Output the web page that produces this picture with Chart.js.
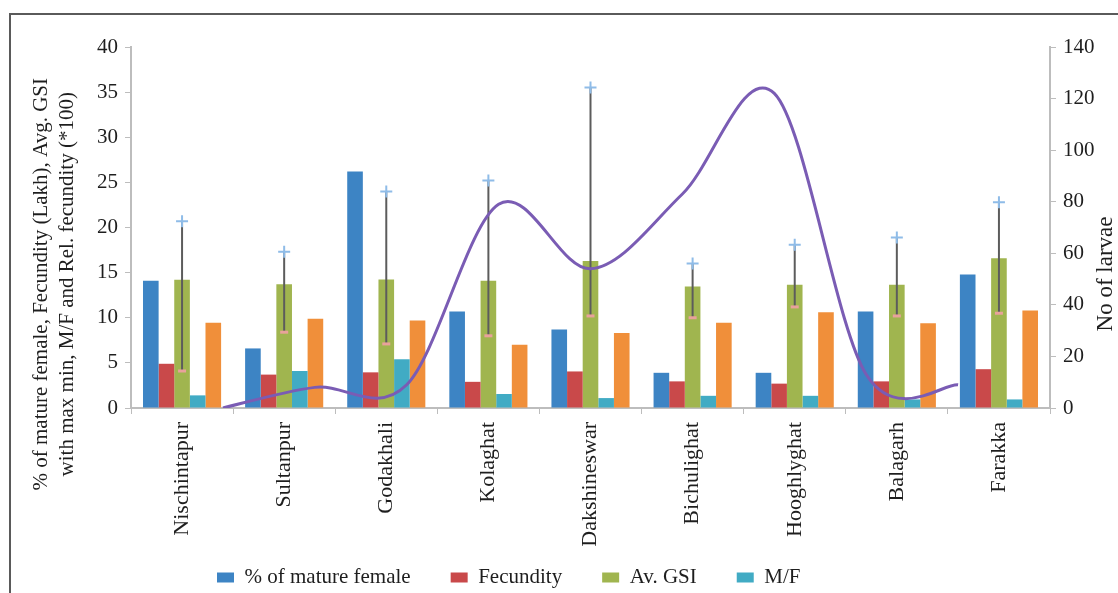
<!DOCTYPE html>
<html>
<head>
<meta charset="utf-8">
<script src="https://cdn.jsdelivr.net/npm/chart.js@4"></script>
<style>
  body { margin: 0; background: #fff; }
  #wrap { position: relative; width: 1118px; height: 593px; overflow: hidden; }
  #frame { position: absolute; left: 9px; top: 13px; right: -5px; bottom: -5px;
           border-top: 2px solid #5a5a5a; border-left: 2px solid #5a5a5a; pointer-events: none; }
</style>
</head>
<body>
<div id="wrap">
  <canvas id="riverChart" width="1118" height="593"></canvas>
  <div id="frame"></div>
</div>
<script>
// Sites along the river
const sites = ['Nischintapur', 'Sultanpur', 'Godakhali', 'Kolaghat', 'Dakshineswar',
               'Bichulighat', 'Hooghlyghat', 'Balagarh', 'Farakka'];

// Left axis series
const matureFemale = [14.1, 6.6, 26.2, 10.7, 8.7, 3.9, 3.9, 10.7, 14.8];
const fecundity = [4.9, 3.7, 3.95, 2.9, 4.05, 2.95, 2.7, 2.95, 4.3];
const avGSI = [14.2, 13.7, 14.25, 14.1, 16.3, 13.45, 13.65, 13.65, 16.6];
const gsiMax = [20.7, 17.3, 24.0, 25.2, 35.5, 16.0, 18.1, 18.9, 22.8];
const gsiMin = [4.1, 8.4, 7.1, 8.0, 10.2, 10.0, 11.2, 10.2, 10.5];
const mfRatio = [1.4, 4.1, 5.4, 1.55, 1.1, 1.35, 1.35, 0.95, 0.95];
const relFecundity = [9.45, 9.9, 9.7, 7.0, 8.3, 9.45, 10.6, 9.4, 10.8];

// Right axis series: scatter x = 1..9 on a secondary 0..10 axis in the original
const larvaePos = [1, 2, 3, 4, 5, 6, 7, 8, 9];
const larvae = [0, 8, 9, 79, 54, 83, 122, 13, 9];

const leftTicks = [0, 5, 10, 15, 20, 25, 30, 35, 40];
const rightTicks = [0, 20, 40, 60, 80, 100, 120, 140];

const serif = '"Liberation Serif", "Times New Roman", serif';
const textColor = '#1e1e1e';
const axisColor = '#bdbdbd';
const legendPad = 40;

// map the secondary 0..10 scale onto the site index axis (-0.5 .. 8.5)
const toSiteAxis = p => -0.5 + p * sites.length / 10;
const xy = arr => arr.map((v, i) => ({ x: i, y: v }));

// whisker lines between min and max GSI
const whiskers = {
    id: 'whiskers',
    beforeDatasetDraw(chart, args) {
        if (args.index !== 6) return;
        const ctx = chart.ctx, x = chart.scales.x, y = chart.scales.y;
        ctx.save();
        ctx.strokeStyle = '#5c5c5c';
        ctx.lineWidth = 2;
        for (let i = 0; i < sites.length; i++) {
            const px = x.getPixelForValue(i);
            ctx.beginPath();
            ctx.moveTo(px, y.getPixelForValue(gsiMax[i]));
            ctx.lineTo(px, y.getPixelForValue(gsiMin[i]));
            ctx.stroke();
        }
        ctx.restore();
    }
};

// Excel-style smoothing for the larvae curve (uniform catmull-rom, 1/6)
const excelSmooth = {
    id: 'excelSmooth',
    beforeDatasetDraw(chart, args) {
        if (args.index !== 7) return;
        const line = args.meta.dataset;
        line.updateControlPoints(chart.chartArea, 'x');
        const pts = args.meta.data;
        for (let i = 0; i < pts.length; i++) {
            const prev = pts[i - 1] || pts[i];
            const next = pts[i + 1] || pts[i];
            const dx = (next.x - prev.x) / 6, dy = (next.y - prev.y) / 6;
            pts[i].cp1x = pts[i].x - dx; pts[i].cp1y = pts[i].y - dy;
            pts[i].cp2x = pts[i].x + dx; pts[i].cp2y = pts[i].y + dy;
        }
        line._path = undefined;
    }
};

// axis titles, drawn reading bottom-to-top on both sides
const axisTitles = {
    id: 'axisTitles',
    afterDraw(chart) {
        const ctx = chart.ctx;
        ctx.save();
        ctx.fillStyle = textColor;
        ctx.font = '21px ' + serif;
        ctx.textAlign = 'center';
        ctx.textBaseline = 'middle';
        const l1 = '% of mature female, Fecundity (Lakh), Avg. GSI';
        const l2 = 'with max min, M/F and Rel. fecundity (*100)';
        const c = 78 + ctx.measureText(l1).width / 2;
        ctx.save();
        ctx.translate(41, c);
        ctx.rotate(-Math.PI / 2);
        ctx.fillText(l1, 0, 0);
        ctx.fillText(l2, 0, 26);
        ctx.restore();
        ctx.font = '23px ' + serif;
        ctx.translate(1106, 274);
        ctx.rotate(-Math.PI / 2);
        ctx.fillText('No of larvae', 0, 0);
        ctx.restore();
    }
};

// legend row sits left of centre in the original
const legendShift = {
    id: 'legendShift',
    afterLayout(chart) {
        const lg = chart.legend;
        const w = lg.right - lg.left;
        lg.left = 217 - legendPad;
        lg.right = lg.left + w;
        lg.top = 527;
        lg.bottom = 600;
    }
};

new Chart(document.getElementById('riverChart'), {
    type: 'bar',
    data: {
        datasets: [
            { label: '% of mature female', data: xy(matureFemale), backgroundColor: '#3d84c4', order: 3 },
            { label: 'Fecundity', data: xy(fecundity), backgroundColor: '#c9494a', order: 3 },
            { label: 'Av. GSI', data: xy(avGSI), backgroundColor: '#a0b54f', order: 3 },
            { label: 'M/F', data: xy(mfRatio), backgroundColor: '#41abc4', order: 3 },
            { label: 'Rel. fecundity', data: xy(relFecundity), backgroundColor: '#f08f3a', order: 3 },
            { label: 'GSI max', type: 'line', data: xy(gsiMax), showLine: false, order: 1,
              pointStyle: 'cross', pointRadius: 6, pointBorderWidth: 2,
              pointBorderColor: '#8fbce8', pointBackgroundColor: '#8fbce8' },
            { label: 'GSI min', type: 'line', data: xy(gsiMin), showLine: false, order: 2,
              pointStyle: 'line', pointRadius: 4, pointBorderWidth: 3,
              pointBorderColor: '#e9a29b', pointBackgroundColor: '#e9a29b' },
            { label: 'No of larvae', type: 'line', yAxisID: 'y1', order: 0,
              data: larvaePos.map((p, i) => ({ x: toSiteAxis(p), y: larvae[i] })),
              borderColor: '#7a5cb4', borderWidth: 3, pointRadius: 0, tension: 0.4, fill: false }
        ]
    },
    options: {
        responsive: false,
        animation: false,
        devicePixelRatio: 1,
        layout: { padding: { top: 47, left: 0, right: 0, bottom: 0 } },
        datasets: { bar: { categoryPercentage: 0.765, barPercentage: 1.0 } },
        plugins: {
            tooltip: { enabled: false },
            legend: {
                position: 'bottom',
                align: 'start',
                maxHeight: 45,
                labels: {
                    font: { family: serif, size: 21 },
                    color: textColor,
                    boxWidth: 17,
                    boxHeight: 10,
                    padding: legendPad,
                    filter: item => item.datasetIndex < 4
                }
            }
        },
        scales: {
            x: {
                type: 'linear',
                offset: false,
                min: -0.5, max: sites.length - 0.5,
                afterBuildTicks: s => { s.ticks = sites.map((_, i) => ({ value: i })); },
                grid: { display: true, drawOnChartArea: false, color: axisColor, tickLength: 6, offset: true },
                border: { color: axisColor, width: 2 },
                ticks: { font: { family: serif, size: 22 }, color: textColor, maxRotation: 90, minRotation: 90,
                         autoSkip: false, padding: 8, callback: (v, i) => sites[i] },
                afterFit: s => { s.height = 140; }
            },
            y: {
                position: 'left',
                min: 0, max: 40,
                afterBuildTicks: s => { s.ticks = leftTicks.map(v => ({ value: v })); },
                grid: { drawOnChartArea: false, color: axisColor, tickLength: 6 },
                border: { color: axisColor, width: 2 },
                ticks: { font: { family: serif, size: 21 }, color: textColor, padding: 7 },
                afterFit: s => { s.width = 131; }
            },
            y1: {
                position: 'right',
                min: 0, max: 140,
                afterBuildTicks: s => { s.ticks = rightTicks.map(v => ({ value: v })); },
                grid: { drawOnChartArea: false, color: axisColor, tickLength: 6 },
                border: { color: axisColor, width: 2 },
                ticks: { font: { family: serif, size: 21 }, color: textColor, padding: 7 },
                afterFit: s => { s.width = 68; }
            }
        }
    },
    plugins: [whiskers, excelSmooth, axisTitles, legendShift]
});
</script>
</body>
</html>
